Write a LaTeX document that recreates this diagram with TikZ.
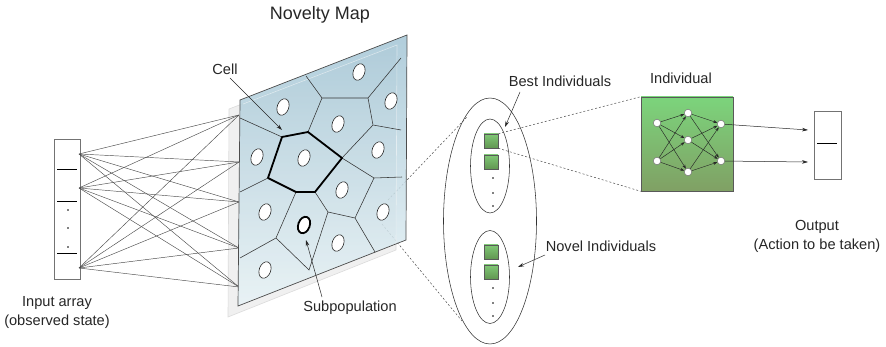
\documentclass[tikz,border=0pt]{standalone}
\usepackage{fontspec}
\setmainfont{Liberation Sans}
\usetikzlibrary{shapes.geometric,arrows.meta}

\definecolor{mapTop}{RGB}{163,197,213}
\definecolor{mapBot}{RGB}{232,243,246}
\definecolor{sqTop}{RGB}{128,200,118}
\definecolor{sqBot}{RGB}{98,150,82}
\definecolor{indTop}{RGB}{124,212,124}
\definecolor{indBot}{RGB}{128,160,100}

\begin{document}
\begin{tikzpicture}[x=1pt,y=-1pt,
  lbl/.style={font=\fontsize{14.6}{19}\selectfont, align=center, text=black!85, inner sep=0pt},
  hole/.style={ellipse, draw=black!85, fill=white, line width=0.6pt, minimum width=11.5pt,
               minimum height=17pt, inner sep=0pt, rotate=-20},
  wire/.style={draw=black!70, line width=0.45pt},
  voro/.style={draw=black!80, line width=0.55pt},
  cellb/.style={draw=black, line width=1.8pt, line join=round},
  ptr/.style={draw=black!85, line width=0.5pt, -{Stealth[length=6pt,width=3.6pt]}},
  dashline/.style={draw=black!70, line width=0.5pt, dash pattern=on 2pt off 2pt},
  gsq/.style={draw=black!65, line width=0.6pt, top color=sqTop, bottom color=sqBot,
              minimum size=14pt, inner sep=0pt},
  grp/.style={ellipse, draw=black!80, line width=0.55pt, inner sep=0pt},
  neuron/.style={circle, draw=black!55, fill=white, minimum size=7.5pt, inner sep=0pt, line width=0.5pt},
  syn/.style={draw=black!85, line width=0.45pt, -{Stealth[length=4pt,width=3pt]}},
  pip/.style={circle, fill=black, minimum size=1.6pt, inner sep=0pt},
]
\useasboundingbox (0,0) rectangle (886,347);

% ---------- input array ----------
\node[draw=black!55, line width=0.6pt, minimum width=26pt, minimum height=140pt, inner sep=0pt] (inbox) at (67,209) {};
\draw[black, line width=0.6pt] (57,169) -- (77,169) (57,201) -- (77,201) (57,253) -- (77,253);
\node[pip] (d1) at (68,210) {};
\node[pip] (d2) at (68,228) {};
\node[pip] (d3) at (68,247) {};
\node[lbl] (inlbl) at (57,312) {Input array\\(observed state)};

\coordinate (s1) at (79,154);
\coordinate (s2) at (79,188);
\coordinate (s3) at (79,268);
\coordinate (t1) at (239,115);
\coordinate (t2) at (239,162);
\coordinate (t3) at (239,202);
\coordinate (t4) at (239,248);
\coordinate (t5) at (239,287);

% ---------- backing panel of the map ----------
\coordinate (p1) at (229,109);
\coordinate (p2) at (397,45);
\coordinate (p3) at (396,250);
\coordinate (p4) at (228,317);
\fill[black!6] (p1) -- (p2) -- (p3) -- (p4) -- cycle;
\draw[black!14, line width=0.6pt] (p1) -- (p2) -- (p3) -- (p4) -- cycle;

% fully connected input wiring
\foreach \s in {s1,s2,s3}
  \foreach \t in {t1,t2,t3,t4,t5}
    \draw[wire] (\s) -- (\t);

% ---------- population view ----------
\node[grp, minimum width=93pt, minimum height=246pt] (pop) at (490,221) {};
\node[grp, minimum width=39pt, minimum height=94pt] (best) at (490,166) {};
\node[grp, minimum width=39pt, minimum height=93pt] (novel) at (490,277) {};

% zoom lines from the subpopulation to the population
\coordinate (zu) at (388,200);
\coordinate (zl) at (382,224);
\coordinate (zu2) at (467,117);
\coordinate (zl2) at (462,321);
\draw[dashline] (zu) -- (zu2);
\draw[dashline] (zl) -- (zl2);

% ---------- novelty map ----------
\coordinate (m1) at (240,100);
\coordinate (m2) at (407,35);
\coordinate (m3) at (406,240);
\coordinate (m4) at (238,306);
\shade[top color=mapTop, bottom color=mapBot, opacity=0.85] (m1) -- (m2) -- (m3) -- (m4) -- cycle;
\draw[white, opacity=0.55, line width=0.6pt] (243,104) -- (p2) -- (396,244);
\draw[black!70, line width=0.7pt] (m1) -- (m2) -- (m3) -- (m4) -- cycle;

% cell boundaries
\coordinate (A) at (240,118);
\coordinate (B) at (282,137);
\coordinate (C) at (308,132);
\coordinate (D) at (342,158);
\coordinate (E) at (315,192);
\coordinate (F) at (296,192);
\coordinate (G) at (268,178);
\coordinate (H) at (306,76);
\coordinate (I) at (322,98);
\coordinate (J) at (368,98);
\coordinate (K) at (401,58);
\coordinate (L) at (373,125);
\coordinate (M) at (401,130);
\coordinate (N) at (374,178);
\coordinate (O) at (402,177);
\coordinate (P) at (355,218);
\coordinate (Q) at (375,252);
\coordinate (R) at (328,212);
\coordinate (S) at (309,270);
\coordinate (T) at (276,238);
\coordinate (U) at (240,258);
\coordinate (V) at (240,192);
\draw[voro] (A) -- (B) (H) -- (I) -- (J) -- (K) (J) -- (L) -- (M) (L) -- (D)
            (I) -- (C) (D) -- (N) -- (O) (N) -- (P) -- (Q) (P) -- (R) -- (E)
            (R) -- (S) -- (T) -- (F) (T) -- (U) (G) -- (V);
\draw[cellb] (B) -- (C) -- (D) -- (E) -- (F) -- (G) -- cycle;

% subpopulations
\node[hole] (c1) at (359,72) {};
\node[hole] (c2) at (283,107) {};
\node[hole] (c3) at (391,101) {};
\node[hole] (c4) at (338,124) {};
\node[hole] (c5) at (257,157) {};
\node[hole] (c6) at (304,158) {};
\node[hole] (c7) at (378,150) {};
\node[hole] (c8) at (342,190) {};
\node[hole] (c9) at (265,212) {};
\node[hole, line width=1.8pt, draw=black] (sub) at (304,225) {};
\node[hole] (c11) at (383,212) {};
\node[hole] (c12) at (338,243) {};
\node[hole] (c13) at (265,270) {};

\node[font=\fontsize{18}{20}\selectfont, text=black!85] (title) at (320,15) {Novelty Map};
\node[lbl] (celllbl) at (225,69) {Cell};
\coordinate (cellfrom) at (230,78);
\coordinate (celltip) at (282,130);
\draw[ptr] (cellfrom) -- (celltip);
\node[lbl] (sublbl) at (350,308) {Subpopulation};
\coordinate (subfrom) at (322,297);
\coordinate (subtip) at (306,240);
\draw[ptr] (subfrom) -- (subtip);

% ---------- individuals ----------
\node[gsq] (b1) at (491,141) {};
\node[gsq] (b2) at (491,162) {};
\node[pip] at (493,178) {};
\node[pip] at (493,193) {};
\node[pip] at (493,206) {};
\node[gsq] (v1) at (491,252) {};
\node[gsq] (v2) at (491,272) {};
\node[pip] at (493,288) {};
\node[pip] at (493,303) {};
\node[pip] at (493,316) {};

\node[lbl] (bestlbl) at (560,81) {Best Individuals};
\coordinate (bestfrom) at (520,92);
\coordinate (besttip) at (505,127);
\draw[ptr] (bestfrom) -- (besttip);
\node[lbl] (novellbl) at (601,246) {Novel Individuals};
\coordinate (novelfrom) at (545,255);
\coordinate (noveltip) at (518,267);
\draw[ptr] (novelfrom) -- (noveltip);

% ---------- one individual: its network ----------
\node[draw=black!65, line width=0.6pt, top color=indTop, bottom color=indBot,
      minimum width=92pt, minimum height=94pt, inner sep=0pt] (ind) at (687,144) {};
\draw[dashline] (b1.north east) -- (ind.north west);
\draw[dashline] (b1.south east) -- (ind.south west);
\node[lbl] (indlbl) at (681,78) {Individual};

\node[neuron] (n1) at (657,123) {};
\node[neuron] (n2) at (657,161) {};
\node[neuron] (h1) at (688,113) {};
\node[neuron] (h2) at (688,140) {};
\node[neuron] (h3) at (688,172) {};
\node[neuron] (o1) at (721,124) {};
\node[neuron] (o2) at (721,161) {};
\foreach \a in {n1,n2}
  \foreach \b in {h1,h2,h3}
    \draw[syn] (\a) -- (\b);
\foreach \a in {h1,h2,h3}
  \foreach \b in {o1,o2}
    \draw[syn] (\a) -- (\b);

% ---------- output ----------
\node[draw=black!55, line width=0.6pt, minimum width=27pt, minimum height=68pt, inner sep=0pt] (outbox) at (827.5,145) {};
\draw[black, line width=0.6pt] (817,143) -- (837,143);
\coordinate (a1) at (808,130);
\coordinate (a2) at (808,162);
\draw[ptr] (o1) -- (a1);
\draw[ptr] (o2) -- (a2);
\node[lbl] (outlbl) at (817,236) {Output\\(Action to be taken)};

\end{tikzpicture}
\end{document}
